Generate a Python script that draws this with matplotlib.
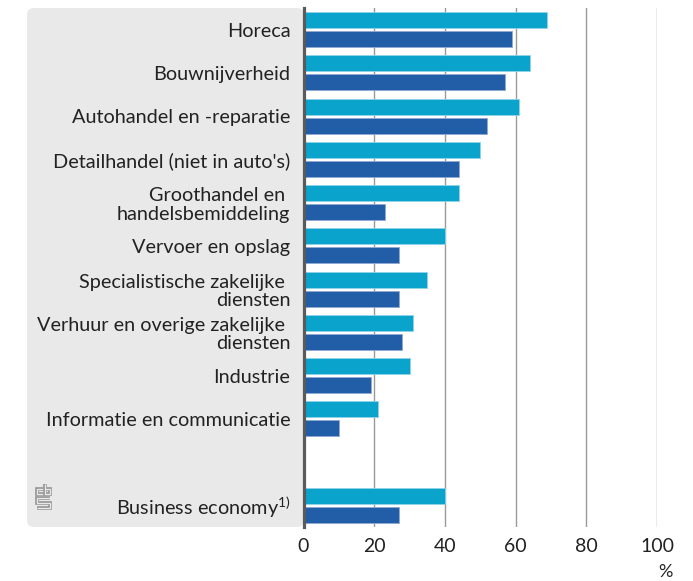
import matplotlib
matplotlib.use("Agg")
import matplotlib.pyplot as plt
from matplotlib.patches import FancyBboxPatch

plt.rcParams["font.family"] = ["Lato", "DejaVu Sans"]
plt.rcParams["mathtext.fontset"] = "custom"
plt.rcParams["mathtext.rm"] = "Lato"
plt.rcParams["mathtext.default"] = "regular"

categories = [
    "Horeca",
    "Bouwnijverheid",
    "Autohandel en -reparatie",
    "Detailhandel (niet in auto's)",
    "Groothandel en \nhandelsbemiddeling",
    "Vervoer en opslag",
    "Specialistische zakelijke \ndiensten",
    "Verhuur en overige zakelijke \ndiensten",
    "Industrie",
    "Informatie en communicatie",
    "Business economy$^{1)}$",
]
series_a = [69, 64, 61, 50, 44, 40, 35, 31, 30, 21, 40]
series_b = [59, 57, 52, 44, 23, 27, 27, 28, 19, 10, 27]
ypos = [0, 1, 2, 3, 4, 5, 6, 7, 8, 9, 11]
xticks = [0, 20, 40, 60, 80, 100]

light = "#0aa3cb"
dark = "#225da8"
panel = "#e9e9e9"

W, H = 693, 581
fig = plt.figure(figsize=(W / 100, H / 100), dpi=100)

# grey label panel behind the category names
bg = FancyBboxPatch((0.27, 0.54), 2.77, 5.19,
                    boxstyle="round,pad=0,rounding_size=0.07",
                    transform=fig.dpi_scale_trans, facecolor=panel,
                    edgecolor="none", zorder=-5)
fig.patches.append(bg)

ax = fig.add_axes([303.5 / W, 1 - 527 / H, (657 - 303.5) / W, (527 - 8) / H])
ax.set_facecolor("none")

off, h = 0.22, 0.37
ax.barh([y - off for y in ypos], series_a, height=h, color=light,
        edgecolor="#8fd3e8", linewidth=0.6, zorder=3)
ax.barh([y + off for y in ypos], series_b, height=h, color=dark,
        edgecolor="#8fa9d4", linewidth=0.6, zorder=3)

ax.set_xlim(0, 100)
ax.set_ylim(11.5, -0.5)
ax.set_xticks(xticks)
ax.set_yticks(ypos)
ax.set_yticklabels(categories, fontsize=14.3, color="#222222", linespacing=1.1)
ax.tick_params(axis="y", length=0, pad=9.5)
ax.tick_params(axis="x", length=0, pad=8, labelsize=14, labelcolor="#222222")
ax.grid(axis="x", color="#9a9a9a", linewidth=1, zorder=1)
ax.set_axisbelow(True)

for s in ["top", "right", "bottom"]:
    ax.spines[s].set_visible(False)
ax.spines["left"].set_color("#5a5a5a")
ax.spines["left"].set_linewidth(2.3)
ax.spines["left"].set_zorder(4)

fig.text(673 / W, 1 - 572 / H, "%", ha="right", va="center",
         fontsize=13, color="#222222")

# small cbs logo in the corner of the panel
lax = fig.add_axes([35 / W, 1 - 510 / H, 17 / W, 28 / H])
lax.set_xlim(-1.5, 14.5)
lax.set_ylim(-1.5, 25.5)
lax.axis("off")
logo = [
    ([6.5, 0.5, 0.5, 6.5], [19, 19, 13.5, 13.5]),
    ([7.5, 7.5, 12.5, 12.5, 7.5], [24, 13.5, 13.5, 19, 19]),
    ([12.5, 0.5, 0.5, 12.5, 12.5, 0.5], [10.5, 10.5, 5.5, 5.5, 0.5, 0.5]),
]
for xs, ys in logo:
    lax.plot(xs, ys, color="#9a9a9a", lw=2.7, solid_capstyle="butt",
             solid_joinstyle="miter")
    lax.plot(xs, ys, color=panel, lw=0.9, solid_capstyle="butt",
             solid_joinstyle="miter")

fig.savefig("out.png", dpi=100)
